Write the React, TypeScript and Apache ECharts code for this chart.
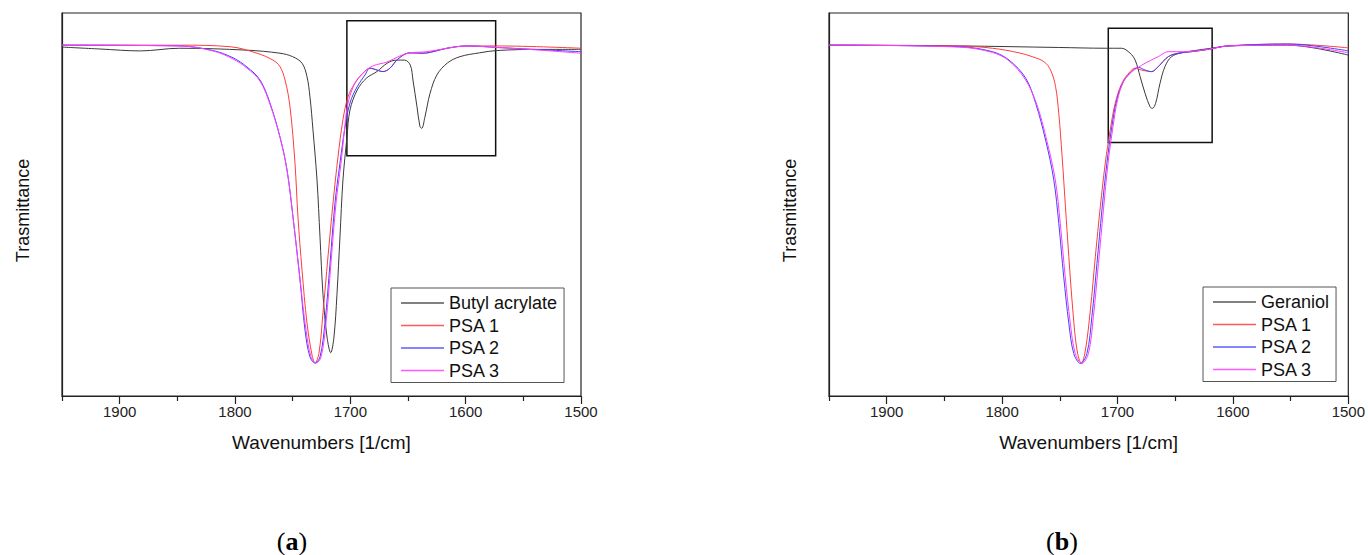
import React, { useEffect, useRef } from "react";
import * as echarts from "echarts";

// ---------- axis constants ----------
const X_MIN = 1500;
const X_MAX = 1950;
const majorTicks = [1900, 1800, 1700, 1600, 1500];
const minorTicks = [1950, 1850, 1750, 1650, 1550];

// ---------- panel (a) ----------
const butylW = [1950, 1917, 1882, 1848, 1790, 1761, 1750, 1741.9, 1737.6, 1735, 1732.4, 1728.9, 1726.3, 1723.7, 1720.2, 1717, 1714.2, 1711.6, 1709, 1706.4, 1702.9, 1700.3, 1694, 1686, 1677, 1668, 1660, 1653, 1648, 1645.7, 1642.2, 1639.6, 1638.1, 1635.3, 1630.9, 1625, 1616, 1605, 1588, 1573, 1536, 1500];
const butylT = [91.1, 90.6, 90.1, 90.8, 90.3, 89.5, 88.6, 86.9, 83.4, 78.1, 69.5, 56.4, 41.5, 26.5, 15.4, 11.3, 15.4, 26.5, 41.5, 56.4, 67.6, 74.7, 79.9, 83.0, 84.7, 86.9, 87.7, 87.7, 86.4, 82.5, 75.5, 70.3, 69.9, 72.9, 79.0, 83.8, 86.9, 88.6, 89.6, 90.2, 90.5, 90.5];

const a1W = [1950, 1847.7, 1804.3, 1780.9, 1767.1, 1761.0, 1756.6, 1752.3, 1748.0, 1745.4, 1741.9, 1737.6, 1733.2, 1730.6, 1727.2, 1723.7, 1719.4, 1715.0, 1710.7, 1706.4, 1702.0, 1696.0, 1689.0, 1682.9, 1671.7, 1665.6, 1658.7, 1648.3, 1637.0, 1628.3, 1616.2, 1598.8, 1572.8, 1500];
const a1T = [91.6, 91.6, 91.2, 89.5, 87.7, 86.0, 82.5, 75.5, 60.8, 46.7, 32.9, 19.1, 10.7, 8.6, 11.2, 21.7, 36.3, 50.4, 62.4, 72.1, 78.1, 81.7, 84.3, 85.6, 84.7, 85.6, 88.0, 89.6, 89.5, 89.9, 90.8, 91.4, 91.4, 90.8];

const a2W = [1950, 1847.7, 1819.1, 1801.7, 1789.6, 1778.3, 1769.7, 1761.0, 1754.9, 1749.7, 1743.6, 1739.3, 1735.0, 1730.6, 1726.3, 1722.0, 1717.6, 1713.3, 1709.0, 1704.6, 1700.3, 1694.2, 1687.3, 1682.9, 1676.9, 1671.7, 1665.6, 1658.7, 1648.3, 1637.0, 1628.3, 1616.2, 1598.8, 1572.8, 1500];
const a2T = [91.6, 91.4, 90.2, 88.3, 85.9, 82.5, 76.5, 67.6, 59.0, 46.7, 30.3, 17.2, 10.2, 8.6, 10.2, 19.1, 34.7, 50.4, 60.8, 70.2, 76.5, 80.7, 83.8, 85.6, 85.1, 84.7, 85.6, 88.0, 89.6, 89.5, 89.9, 90.8, 91.4, 91.0, 89.9];

const a3W = [1950, 1847.7, 1819.1, 1801.7, 1789.6, 1778.3, 1769.7, 1761.0, 1754.9, 1749.7, 1743.6, 1738.4, 1734.1, 1729.8, 1725.4, 1721.1, 1716.8, 1712.4, 1708.1, 1704.6, 1702.0, 1696.0, 1689.0, 1680.3, 1668.2, 1656.9, 1648.3, 1633.5, 1616.2, 1598.8, 1572.8, 1535.5, 1500];
const a3T = [91.6, 91.4, 90.1, 88.0, 85.6, 82.2, 76.2, 67.6, 59.0, 46.7, 30.3, 17.2, 10.2, 8.6, 10.2, 19.1, 34.7, 50.4, 60.8, 70.8, 76.5, 81.7, 84.3, 86.2, 87.2, 88.8, 89.6, 89.9, 90.8, 91.4, 91.0, 90.3, 89.5];

const insetA = [[1703, 98.0], [1574, 62.7]];

// ---------- panel (b) ----------
const gerW = [1950, 1837.1, 1750.9, 1710.6, 1696.6, 1689.1, 1684.7, 1680.4, 1676.1, 1671.8, 1669.8, 1667.0, 1663.2, 1658.9, 1653.2, 1644.6, 1633.0, 1618.7, 1604.3, 1552.6, 1500];
const gerT = [91.6, 91.4, 91.0, 90.8, 90.8, 89.5, 87.7, 83.4, 79.0, 75.5, 75.1, 76.4, 81.6, 86.0, 88.6, 89.6, 90.2, 90.8, 91.4, 91.6, 89.0];

const b1W = [1950, 1837.1, 1808.4, 1785.3, 1773.9, 1763.8, 1758.0, 1753.7, 1750.9, 1748.0, 1745.1, 1742.2, 1738.5, 1735.1, 1731.3, 1727.8, 1723.5, 1719.2, 1714.9, 1710.6, 1706.3, 1702.0, 1696.3, 1689.1, 1684.7, 1679.1, 1670.4, 1664.7, 1656.0, 1647.4, 1635.9, 1621.6, 1604.3, 1552.6, 1500];
const b1T = [91.6, 91.4, 90.8, 89.6, 88.6, 87.3, 85.1, 80.8, 73.8, 62.5, 49.4, 36.4, 21.6, 12.0, 8.5, 12.0, 22.5, 36.4, 49.4, 60.8, 69.5, 76.4, 81.6, 84.7, 85.6, 85.1, 84.7, 86.0, 88.6, 89.5, 89.9, 90.5, 91.4, 91.9, 90.9];

const b2W = [1950, 1837.1, 1808.4, 1794.0, 1779.6, 1770.9, 1762.3, 1755.2, 1750.9, 1746.6, 1742.2, 1737.9, 1732.2, 1726.5, 1722.2, 1717.8, 1713.5, 1709.2, 1704.9, 1700.6, 1694.8, 1687.7, 1681.9, 1676.1, 1670.4, 1664.7, 1656.0, 1647.4, 1635.9, 1621.6, 1604.3, 1552.6, 1500];
const b2T = [91.6, 91.2, 89.9, 87.7, 83.0, 76.4, 66.8, 56.4, 45.1, 31.1, 19.0, 11.1, 8.5, 11.1, 20.7, 34.6, 48.6, 60.8, 70.3, 77.3, 82.1, 84.7, 85.8, 85.1, 84.7, 86.0, 88.6, 89.5, 89.9, 90.5, 91.4, 91.9, 90.1];

const b3W = [1950, 1837.1, 1808.4, 1794.0, 1779.6, 1769.8, 1761.2, 1753.9, 1749.6, 1745.3, 1740.9, 1736.6, 1730.9, 1725.2, 1720.9, 1716.5, 1712.2, 1708.2, 1703.9, 1700.0, 1694.8, 1687.7, 1681.9, 1676.1, 1664.7, 1656.0, 1641.6, 1621.6, 1604.3, 1552.6, 1500];
const b3T = [91.6, 91.1, 89.7, 87.5, 82.5, 76.0, 66.6, 56.4, 45.1, 31.1, 19.0, 11.1, 8.5, 11.1, 20.7, 34.6, 48.6, 60.8, 70.3, 77.3, 82.1, 84.7, 85.8, 86.9, 88.6, 89.9, 89.9, 90.5, 91.4, 91.6, 89.6];

const insetB = [[1708, 96.0], [1618, 66.2]];

const legendA = ["Butyl acrylate", "PSA 1", "PSA 2", "PSA 3"];
const legendB = ["Geraniol", "PSA 1", "PSA 2", "PSA 3"];

const COLORS: Record<string, string> = {
  "Butyl acrylate": "#3a3a3a",
  Geraniol: "#3a3a3a",
  "PSA 1": "#ff3c3c",
  "PSA 2": "#4040ff",
  "PSA 3": "#ff3cff",
};
const FONT = "'Liberation Sans', Arial, Helvetica, sans-serif";
const SERIF = "'Liberation Serif', 'DejaVu Serif', serif";

const zip = (w: number[], t: number[]) => w.map((x, i) => [x, t[i]]);

function lineSeries(name: string, w: number[], t: number[], idx: number, inset?: number[][]) {
  const color = COLORS[name];
  const s: any = {
    name,
    type: "line",
    xAxisIndex: idx * 2,
    yAxisIndex: idx,
    data: zip(w, t),
    symbol: "none",
    showSymbol: false,
    smooth: 0.35,
    lineStyle: { color, width: 1 },
    itemStyle: { color },
    silent: true,
  };
  if (inset) {
    s.markArea = {
      silent: true,
      itemStyle: { color: "rgba(0,0,0,0)", borderColor: "#111", borderWidth: 1.5 },
      data: [[{ coord: inset[0] }, { coord: inset[1] }]],
    };
  }
  return s;
}

function xAxes(gridIndex: number) {
  const line = { color: "#222", width: 1.2 };
  return [
    {
      gridIndex,
      type: "value",
      min: X_MIN,
      max: X_MAX,
      inverse: true,
      position: "bottom",
      axisLine: { show: true, onZero: false, lineStyle: line },
      axisTick: { show: true, inside: false, length: 8, lineStyle: line, customValues: majorTicks },
      axisLabel: {
        show: true,
        customValues: majorTicks,
        formatter: (v: number) => String(v),
        fontSize: 15,
        color: "#222",
        margin: 8,
        fontFamily: FONT,
      },
      splitLine: { show: false },
      name: "Wavenumbers [1/cm]",
      nameLocation: "middle",
      nameGap: 37,
      nameTextStyle: { fontSize: 19, color: "#111", fontFamily: FONT },
    },
    {
      gridIndex,
      type: "value",
      min: X_MIN,
      max: X_MAX,
      inverse: true,
      position: "bottom",
      axisLine: { show: false, onZero: false },
      axisTick: { show: true, inside: false, length: 5, lineStyle: line, customValues: minorTicks },
      axisLabel: { show: false },
      splitLine: { show: false },
    },
  ];
}

function yAxis(gridIndex: number) {
  return {
    gridIndex,
    type: "value",
    min: 0,
    max: 100,
    axisLine: { show: true, lineStyle: { color: "#222", width: 1.2 } },
    axisTick: { show: false },
    axisLabel: { show: false },
    splitLine: { show: false },
    name: "Trasmittance",
    nameLocation: "middle",
    nameGap: 30,
    nameTextStyle: { fontSize: 18, color: "#111", fontFamily: FONT, padding: [0, 12, 0, 0] },
  };
}

function legend(left: number, top: number, names: string[]) {
  return {
    orient: "vertical",
    left,
    top,
    data: names.map((n) => ({ name: n, icon: "rect", itemStyle: { color: COLORS[n], borderWidth: 0, opacity: 0.85 } })),
    itemWidth: 43,
    itemHeight: 1.5,
    itemGap: 2.5,
    padding: [5, 7, 2, 10],
    borderColor: "#555",
    borderWidth: 1,
    backgroundColor: "#fff",
    selectedMode: false,
    textStyle: { fontSize: 18, color: "#111", fontFamily: FONT, lineHeight: 20 },
  };
}

function panelLabel(x: number, letter: string) {
  return {
    type: "text",
    x,
    y: 541,
    style: {
      text: `{n|(}{b|${letter}}{n|)}`,
      align: "center",
      verticalAlign: "middle",
      rich: {
        n: { fontFamily: SERIF, fontSize: 26, fill: "#000" },
        b: { fontFamily: SERIF, fontSize: 26, fontWeight: "bold", fill: "#000" },
      },
    },
  };
}

export default function App() {
  const ref = useRef<HTMLDivElement>(null);
  useEffect(() => {
    if (!ref.current) return;
    const chart = echarts.init(ref.current, null, { renderer: "svg" });
    const option: any = {
      animation: false,
      backgroundColor: "#fff",
      grid: [
        { left: 62, top: 13, width: 519, height: 383, show: true, borderColor: "#222", borderWidth: 1.2, backgroundColor: "rgba(0,0,0,0)" },
        { left: 829, top: 13, width: 522, height: 383, show: true, borderColor: "#222", borderWidth: 1.2, backgroundColor: "rgba(0,0,0,0)" },
      ],
      xAxis: [...xAxes(0), ...xAxes(1)],
      yAxis: [yAxis(0), yAxis(1)],
      legend: [legend(391, 288, legendA), legend(1203, 287, legendB)],
      series: [
        lineSeries("Butyl acrylate", butylW, butylT, 0, insetA),
        lineSeries("PSA 1", a1W, a1T, 0),
        lineSeries("PSA 2", a2W, a2T, 0),
        lineSeries("PSA 3", a3W, a3T, 0),
        lineSeries("Geraniol", gerW, gerT, 1, insetB),
        lineSeries("PSA 1", b1W, b1T, 1),
        lineSeries("PSA 2", b2W, b2T, 1),
        lineSeries("PSA 3", b3W, b3T, 1),
      ],
      graphic: [panelLabel(292, "a"), panelLabel(1062, "b")],
    };
    chart.setOption(option);
    return () => chart.dispose();
  }, []);
  return <div ref={ref} style={{ position: "absolute", left: 0, top: 0, width: 1368, height: 555 }} />;
}
